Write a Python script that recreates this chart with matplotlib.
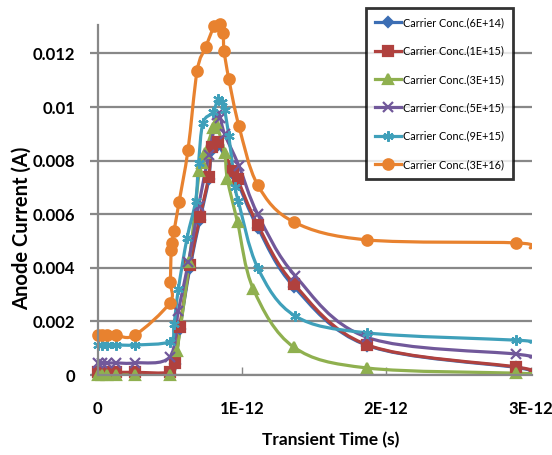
import numpy as np
import matplotlib
matplotlib.use('Agg')
import matplotlib.pyplot as plt
from matplotlib.path import Path
from matplotlib.patches import PathPatch
from matplotlib.lines import Line2D

# --------------- Data (time in ps, current in A) ---------------
labels = ['Carrier Conc.(6E+14)', 'Carrier Conc.(1E+15)', 'Carrier Conc.(3E+15)',
          'Carrier Conc.(5E+15)', 'Carrier Conc.(9E+15)', 'Carrier Conc.(3E+16)']

blue_t = [0, 0.03, 0.065, 0.13, 0.26, 0.50, 0.54, 0.57, 0.64, 0.71, 0.77, 0.79, 0.835, 0.94, 0.97, 1.11, 1.36, 1.87, 2.9, 3.0]
blue_i = [0.00005, 0.00005, 0.00005, 0.00005, 0.00005, 0.00005, 0.0004, 0.0017, 0.0040, 0.0058, 0.0073, 0.0084, 0.0086,
          0.0075, 0.0072, 0.0055, 0.0033, 0.0011, 0.00028, 0.00013]

red_t = [0, 0.03, 0.065, 0.13, 0.26, 0.50, 0.54, 0.57, 0.64, 0.71, 0.77, 0.79, 0.835, 0.94, 0.97, 1.11, 1.36, 1.87, 2.9, 3.0]
red_i = [0.0001, 0.0001, 0.0001, 0.0001, 0.0001, 0.0001, 0.00045, 0.0018, 0.0041, 0.0059, 0.0074, 0.0085, 0.0087,
         0.0076, 0.0073, 0.0056, 0.0034, 0.00112, 0.0003, 0.00015]

green_t = [0, 0.03, 0.065, 0.13, 0.26, 0.50, 0.55, 0.635, 0.705, 0.725, 0.745, 0.80, 0.82, 0.88, 0.90, 0.97, 1.08,
           1.36, 1.87, 2.9, 3.0]
green_i = [0, 0, 0, 0, 0, 0, 0.0009, 0.0042, 0.0076, 0.0079, 0.0083, 0.0092, 0.0094, 0.0083, 0.0073, 0.0057, 0.0032,
           0.00104, 0.00026, 0.00007, 0.00005]

purple_t = [0, 0.03, 0.065, 0.13, 0.26, 0.50, 0.56, 0.63, 0.70, 0.77, 0.83, 0.85, 0.88, 0.98, 1.11, 1.37, 1.87, 2.9, 3.0]
purple_i = [0.00045, 0.00045, 0.00045, 0.00045, 0.00045, 0.00067, 0.0024, 0.0042, 0.0063, 0.0082, 0.0097, 0.0096,
            0.0090, 0.0078, 0.0060, 0.0037, 0.0014, 0.00078, 0.00067]

cyan_t = [0, 0.03, 0.065, 0.13, 0.26, 0.50, 0.53, 0.56, 0.62, 0.68, 0.70, 0.73, 0.80, 0.835, 0.86, 0.88, 0.91, 0.955,
          0.975, 1.11, 1.37, 1.87, 2.9, 3.0]
cyan_i = [0.00112, 0.00112, 0.00112, 0.00112, 0.00112, 0.00125, 0.0019, 0.0032, 0.0051, 0.0065, 0.0079, 0.0094, 0.0098,
          0.0103, 0.0102, 0.0099, 0.0089, 0.0070, 0.0065, 0.0040, 0.0022, 0.00157, 0.0013, 0.00123]

orange_t = [0, 0.03, 0.065, 0.13, 0.26, 0.50, 0.505, 0.51, 0.515, 0.53, 0.565, 0.627, 0.69, 0.75, 0.81, 0.85, 0.87,
            0.877, 0.91, 0.98, 1.11, 1.36, 1.87, 2.9, 3.0]
orange_i = [0.0015, 0.0015, 0.0015, 0.00148, 0.00149, 0.00269, 0.00347, 0.00466, 0.00493, 0.00537, 0.00645, 0.0084,
            0.01134, 0.01224, 0.01302, 0.0131, 0.01276, 0.01209, 0.01104, 0.00929, 0.00709, 0.00571, 0.00504,
            0.00493, 0.00474]

yticks = [0, 0.002, 0.004, 0.006, 0.008, 0.01, 0.012]
ytick_labels = ['0', '0.002', '0.004', '0.006', '0.008', '0.01', '0.012']
xticks = [0, 1e-12, 2e-12, 3e-12]
xtick_labels = ['0', '1E-12', '2E-12', '3E-12']

series = [(blue_t, blue_i), (red_t, red_i), (green_t, green_i),
          (purple_t, purple_i), (cyan_t, cyan_i), (orange_t, orange_i)]
colors = ['#3C6EB4', '#B0413E', '#8FB04F', '#71589A', '#3FA0BA', '#E8822F']
markers = ['D', 's', '^', 'x', (6, 2, 0), 'o']
msizes = [5, 6.5, 6.5, 6.5, 7.5, 7.5]


def smooth_path(x, y):
    # excel-like smoothed line: bezier segments through the points
    p = np.column_stack([x, y])
    verts = [p[0]]
    codes = [Path.MOVETO]
    n = len(p)
    for k in range(n - 1):
        p0 = p[max(k - 1, 0)]
        p1 = p[k]
        p2 = p[k + 1]
        p3 = p[min(k + 2, n - 1)]
        verts += [p1 + (p2 - p0) / 6, p2 - (p3 - p1) / 6, p2]
        codes += [Path.CURVE4] * 3
    return Path(verts, codes)


# --------------- Plot ---------------
fnt = 'Lato'
fig = plt.figure(figsize=(5.52, 4.55), dpi=100)
ax = fig.add_axes([97.5 / 552, 80 / 455, (532 - 97.5) / 552, 350 / 455])

handles = []
for (t, i), c, m, ms, lab in zip(series, colors, markers, msizes, labels):
    ts = np.array(t) * 1e-12
    ax.add_patch(PathPatch(smooth_path(ts, np.array(i)), fc='none', ec=c, lw=2.3, capstyle='round',
                           joinstyle='round'))
    ax.plot(ts[:-1], i[:-1], ls='none', color=c, marker=m, ms=ms, mew=1.6, clip_on=False)
    handles.append(Line2D([], [], color=c, lw=2.3, marker=m, ms=ms, mew=1.6))

ax.set_xlim(0, 3.01e-12)
ax.set_ylim(0, 0.01306)
ax.set_yticks(yticks)
ax.set_yticklabels(ytick_labels, family=fnt, fontsize=12, fontweight='bold')
ax.set_xticks(xticks)
ax.set_xticklabels(xtick_labels, family=fnt, fontsize=12, fontweight='bold')
ax.yaxis.grid(True, color='#888888', lw=1.6)
ax.set_axisbelow(True)
for s in ['top', 'right']:
    ax.spines[s].set_visible(False)
for s in ['left', 'bottom']:
    ax.spines[s].set_color('#888888')
    ax.spines[s].set_linewidth(1.6)
ax.tick_params(axis='y', direction='out', length=6, width=1.6, color='#888888', pad=10)
ax.tick_params(axis='x', direction='in', length=6, width=1, color='#888888', pad=19)

fig.text(331 / 552, 1 - 440 / 455, 'Transient Time (s)', ha='center', va='center',
         family=fnt, fontsize=12.5, fontweight='bold')
fig.text(22 / 552, 1 - 228 / 455, 'Anode Current (A)', ha='center', va='center', rotation=90,
         family=fnt, fontsize=14.5, fontweight='bold')

leg = ax.legend(handles, labels, loc='upper left', bbox_to_anchor=(366 / 552, 1 - 8 / 455),
                bbox_transform=fig.transFigure, prop={'family': fnt, 'size': 7.8}, frameon=True,
                fancybox=False, handlelength=2.4, labelspacing=1.6, borderpad=0.85, handletextpad=0.15,
                borderaxespad=0)
leg.get_frame().set_edgecolor('black')
leg.get_frame().set_linewidth(2)

fig.savefig('out.png', dpi=100)
